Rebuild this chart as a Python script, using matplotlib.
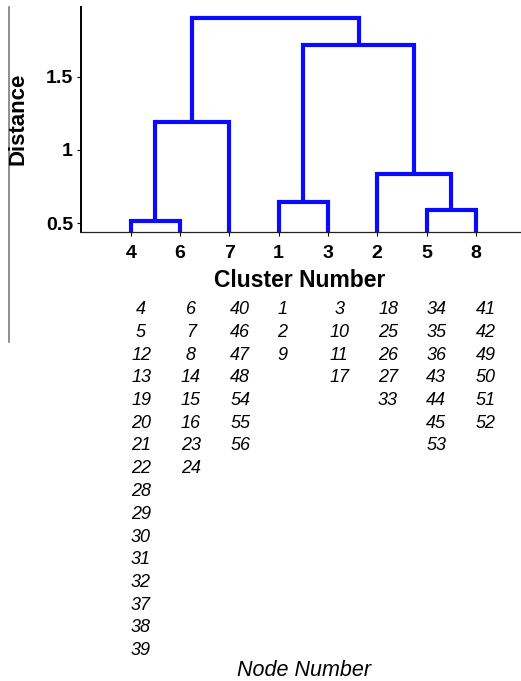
"""Cluster dendrogram with the node numbers listed under each cluster."""

import matplotlib

matplotlib.use("Agg")
import matplotlib.pyplot as plt
import matplotlib.transforms as mtransforms
from matplotlib.lines import Line2D

plt.rcParams["font.family"] = ["Liberation Sans", "DejaVu Sans"]

# leaves in dendrogram order (cluster numbers)
leaf_labels = [4, 6, 7, 1, 3, 2, 5, 8]

# linkage, scipy style: leaves are ids 0..7, merge k creates id 8 + k
merge_left = [0, 6, 3, 5, 8, 10, 12]
merge_right = [1, 7, 4, 9, 2, 11, 13]
merge_height = [0.515, 0.59, 0.647, 0.836, 1.193, 1.716, 1.898]

# nodes belonging to each cluster, same order as the leaves
cluster_nodes = [
    [4, 5, 12, 13, 19, 20, 21, 22, 28, 29, 30, 31, 32, 37, 38, 39],
    [6, 7, 8, 14, 15, 16, 23, 24],
    [40, 46, 47, 48, 54, 55, 56],
    [1, 2, 9],
    [3, 10, 11, 17],
    [18, 25, 26, 27, 33],
    [34, 35, 36, 43, 44, 45, 53],
    [41, 42, 49, 50, 51, 52],
]

y_ticks = [0.5, 1.0, 1.5]
y_tick_labels = ["0.5", "1", "1.5"]

W, H = 521, 681
Y_MIN, Y_MAX = 0.4387, 1.973
BLUE = "#0a0aff"

fig = plt.figure(figsize=(W / 100, H / 100), dpi=100)
ax = fig.add_axes([81.4 / W, (H - 232.3) / H, (W - 81.4) / W, 225.0 / H])

# x position and height of every node in the tree
xpos = {i: i + 1.0 for i in range(len(leaf_labels))}
ypos = {i: Y_MIN for i in range(len(leaf_labels))}
for k, (a, b, h) in enumerate(zip(merge_left, merge_right, merge_height)):
    ax.plot([xpos[a], xpos[a], xpos[b], xpos[b]], [ypos[a], h, h, ypos[b]],
            color=BLUE, lw=3.0, solid_capstyle="butt", solid_joinstyle="miter",
            clip_on=False, zorder=3)
    node = len(leaf_labels) + k
    xpos[node] = (xpos[a] + xpos[b]) / 2
    ypos[node] = h

ax.set_xlim(0, (W - 81.4) / 49.3)
ax.set_ylim(Y_MIN, Y_MAX)
ax.set_xticks(range(1, len(leaf_labels) + 1), [str(v) for v in leaf_labels])
ax.set_yticks(y_ticks, y_tick_labels)
for lab in ax.get_xticklabels() + ax.get_yticklabels():
    lab.set_fontweight("bold")
    lab.set_fontsize(14)
ax.tick_params(axis="x", length=3, width=0.8, pad=6)
ax.tick_params(axis="y", length=3, width=0.8, pad=3)
for side in ("top", "right"):
    ax.spines[side].set_visible(False)
ax.spines["left"].set_linewidth(1.4)
ax.spines["bottom"].set_linewidth(0.9)
ax.spines["bottom"].set_color("#222222")

fig.text(18 / W, (H - 118.5) / H, "Distance", rotation=90, ha="center",
         va="center", fontsize=16, fontweight="bold")
fig.text(300 / W, (H - 287) / H, "Cluster Number", ha="center",
         va="baseline", fontsize=16.5, fontweight="bold")

# node lists: x follows the leaf axis, rows are fixed pixel steps
col_shift = [0.21, 0.22, 0.22, 0.08, 0.23, 0.22, 0.2, 0.2]
trans = mtransforms.blended_transform_factory(ax.transData, fig.transFigure)
for col, nodes in enumerate(cluster_nodes):
    for row, n in enumerate(nodes):
        ax.text(col + 1 + col_shift[col], (H - (314 + row * 22.75)) / H, str(n),
                transform=trans, ha="center", va="baseline", fontsize=13,
                style="italic", clip_on=False)

fig.text(304 / W, 5 / H, "Node Number", ha="center", va="baseline",
         fontsize=15.5, style="italic")

# thin grey rule on the left margin
fig.add_artist(Line2D([9 / W, 9 / W], [(H - 7) / H, (H - 342) / H],
                      transform=fig.transFigure, color="#707070", lw=1.1))

fig.savefig("out.png", dpi=100)
